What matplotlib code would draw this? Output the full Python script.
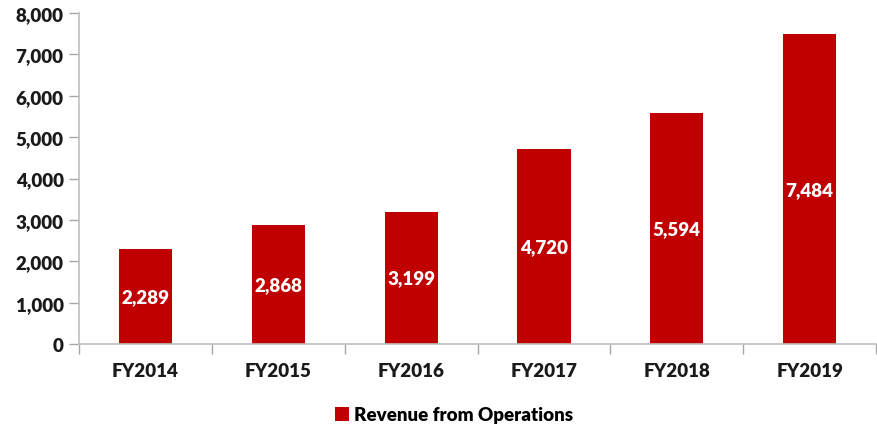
import matplotlib
matplotlib.use("Agg")
import matplotlib.pyplot as plt
from matplotlib.patches import Patch
import numpy as np

categories = ["FY2014", "FY2015", "FY2016", "FY2017", "FY2018", "FY2019"]
revenue = [2289, 2868, 3199, 4720, 5594, 7484]
series_name = "Revenue from Operations"
yticks = [0, 1000, 2000, 3000, 4000, 5000, 6000, 7000, 8000]

plt.rcParams['font.family'] = ['Lato', 'DejaVu Sans']
W = 'heavy'
FS = 13.5

fig = plt.figure(figsize=(8.77, 4.31), dpi=100)
ax = fig.add_axes([79/877, 1-345/431, 1-79/877-0.001, (345-14)/431])

red = "#C00000"
x = np.arange(len(categories))
bars = ax.bar(x, revenue, width=0.4, color=red, zorder=2)

for xi, v in zip(x, revenue):
    ax.text(xi, v/2, f"{v:,}", ha='center', va='center', color='white',
            fontsize=FS, fontweight=W, zorder=3)

ax.set_xlim(-0.5, len(categories)-0.5)
ax.set_ylim(0, 8000)
ax.set_yticks(yticks)
ax.set_yticklabels([f"{t:,}" for t in yticks], fontsize=FS, fontweight=W, color='#1a1a1a')
ax.set_xticks(x)
ax.set_xticklabels(categories, fontsize=FS, fontweight=W, color='#1a1a1a')
ax.set_xticks(np.arange(-0.5, len(categories)), minor=True)
ax.tick_params(axis='x', which='major', length=0, pad=13)
ax.tick_params(axis='x', which='minor', length=7, color='#A6A6A6', width=1)
ax.tick_params(axis='y', length=7, color='#A6A6A6', width=1, pad=4)

for s in ['top', 'right']:
    ax.spines[s].set_visible(False)
for s in ['left', 'bottom']:
    ax.spines[s].set_color('#BFBFBF')
    ax.spines[s].set_linewidth(1.2)

handle = Patch(facecolor=red, edgecolor='none')
fig.legend([handle], [series_name], loc='center', bbox_to_anchor=(454/877, 1-416/431),
           frameon=False, prop={'weight': W, 'size': FS},
           handlelength=0.75, handleheight=0.75, handletextpad=0.3)

fig.savefig("out.png", dpi=100)
